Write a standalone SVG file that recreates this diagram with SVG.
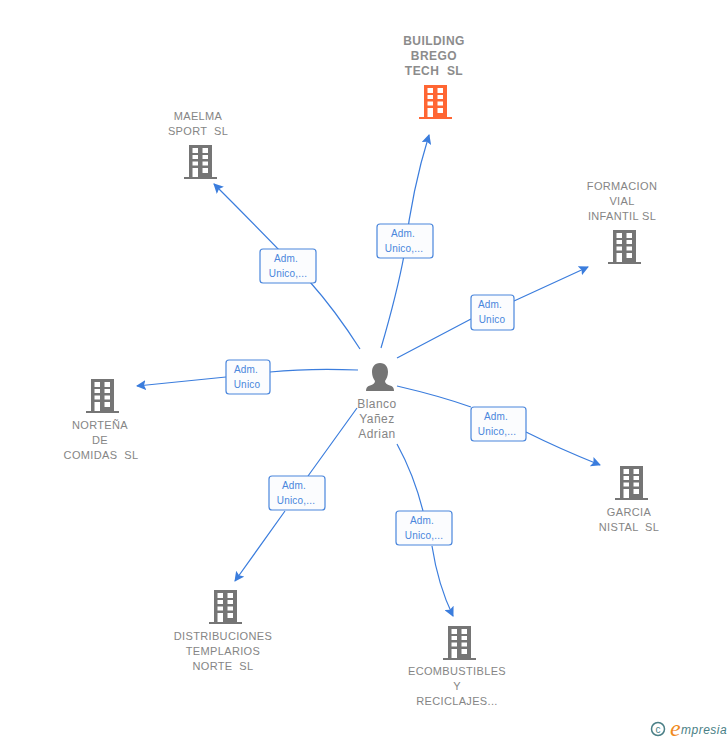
<svg xmlns="http://www.w3.org/2000/svg" width="728" height="740" viewBox="0 0 728 740">
<style>
.n{font:11px "Liberation Sans",Arial,sans-serif;fill:#858585;text-anchor:middle;letter-spacing:.35px;font-weight:400}
.p{font:12px "Liberation Sans",Arial,sans-serif;fill:#858585;text-anchor:middle;letter-spacing:.45px}
.b{font-weight:700;font-size:12px;letter-spacing:.45px;fill:#8c8c8c}
.l{font:10px "Liberation Sans",Arial,sans-serif;fill:#4a86dc;text-anchor:middle;letter-spacing:.2px}
.c{fill:none;stroke:#3b7ddd;stroke-width:1.200}
.box{fill:#fbfcfe;stroke:#4a86dc;stroke-width:1.200}
</style>
<defs>
<marker id="a" markerWidth="11" markerHeight="10" refX="9" refY="5" orient="auto" markerUnits="userSpaceOnUse"><path d="M0 0L10 5L0 10L2 5Z" fill="#3b7ddd"/></marker>
<symbol id="bld" viewBox="0 0 33 34" width="33" height="34">
<path fill-rule="evenodd" d="M5 0H28V32H33V34H0V32H5ZM8.500 3V8H14V3ZM18.500 3V8H24V3ZM8.500 10V14H14V10ZM18.500 10V14H24V10ZM8.500 16.500V20.500H14V16.500ZM18.500 16.500V20.500H24V16.500ZM8.500 23V32H14V23ZM18.500 23V28H24V23Z"/>
</symbol>
</defs>
<g id="connectors">
<path class="c" marker-end="url(#a)" d="M381 348Q398 290 405 250Q412 190 429 135"/>
<path class="c" marker-end="url(#a)" d="M360 349Q335 310 310 282Q265 235 214 184"/>
<path class="c" marker-end="url(#a)" d="M397 358L471 319M514 301L588 267"/>
<path class="c" marker-end="url(#a)" d="M397 386Q440 396 471 407M526 432Q560 449 600 465"/>
<path class="c" marker-end="url(#a)" d="M358 370Q310 368 270 372M226 377L137 386"/>
<path class="c" marker-end="url(#a)" d="M357 408L308 476M285 511L235 581"/>
<path class="c" marker-end="url(#a)" d="M397 444Q414 475 423 511M432 546Q438 585 453 616"/>
</g>
<g id="label-1"><rect class="box" x="377" y="224" width="56" height="34" rx="3"/><text class="l" x="403" y="237">Adm.</text><text class="l" x="404" y="252">Unico,...</text></g>
<g id="label-2"><rect class="box" x="260" y="249" width="56" height="34" rx="3"/><text class="l" x="286" y="262">Adm.</text><text class="l" x="288" y="277">Unico,...</text></g>
<g id="label-3"><rect class="box" x="471" y="295" width="43" height="35" rx="3"/><text class="l" x="490" y="308">Adm.</text><text class="l" x="492" y="323">Unico</text></g>
<g id="label-4"><rect class="box" x="471" y="407" width="55" height="34" rx="3"/><text class="l" x="496" y="420">Adm.</text><text class="l" x="497" y="435">Unico,...</text></g>
<g id="label-5"><rect class="box" x="226" y="360" width="44" height="34" rx="3"/><text class="l" x="246" y="373">Adm.</text><text class="l" x="247" y="388">Unico</text></g>
<g id="label-6"><rect class="box" x="269" y="476" width="56" height="34" rx="3"/><text class="l" x="294" y="489">Adm.</text><text class="l" x="296" y="504">Unico,...</text></g>
<g id="label-7"><rect class="box" x="396" y="511" width="56" height="34" rx="3"/><text class="l" x="422" y="524">Adm.</text><text class="l" x="424" y="539">Unico,...</text></g>
<g id="person"><path fill="#757575" d="M380 363C374.500 363 372 367 372 372C372 376 373.500 379 375 381C375 383.500 373 384.500 370 385.500C367 386.500 366 388 366 391H394C394 388 393 386.500 390 385.500C387 384.500 385 383.500 385 381C386.500 379 388 376 388 372C388 367 385.500 363 380 363Z"/><text class="p" x="377" y="408">Blanco</text><text class="p" x="377" y="423">Yañez</text><text class="p" x="377" y="438">Adrian</text></g>
<g id="building-brego"><use href="#bld" x="419" y="85" fill="#ff6633"/><text class="n b" x="434" y="45">BUILDING</text><text class="n b" x="434" y="60">BREGO</text><text class="n b" x="434" y="75" xml:space="preserve">TECH  SL</text></g>
<g id="maelma"><use href="#bld" x="184" y="145" fill="#757575"/><text class="n" x="198" y="120">MAELMA</text><text class="n" x="198" y="135" xml:space="preserve">SPORT  SL</text></g>
<g id="formacion"><use href="#bld" x="608" y="230" fill="#757575"/><text class="n" x="622" y="190">FORMACION</text><text class="n" x="622" y="205">VIAL</text><text class="n" x="622" y="220">INFANTIL SL</text></g>
<g id="nortena"><use href="#bld" x="86" y="379" fill="#757575"/><text class="n" x="100" y="429">NORTEÑA</text><text class="n" x="100" y="444">DE</text><text class="n" x="101" y="459" xml:space="preserve">COMIDAS  SL</text></g>
<g id="garcia"><use href="#bld" x="615" y="466" fill="#757575"/><text class="n" x="629" y="516">GARCIA</text><text class="n" x="629" y="531" xml:space="preserve">NISTAL  SL</text></g>
<g id="distribuciones"><use href="#bld" x="209" y="590" fill="#757575"/><text class="n" x="223" y="640">DISTRIBUCIONES</text><text class="n" x="223" y="655">TEMPLARIOS</text><text class="n" x="223" y="670" xml:space="preserve">NORTE  SL</text></g>
<g id="ecombustibles"><use href="#bld" x="443" y="626" fill="#757575"/><text class="n" x="457" y="675">ECOMBUSTIBLES</text><text class="n" x="457" y="690">Y</text><text class="n" x="457" y="705">RECICLAJES...</text></g>
<g id="brand"><circle cx="658" cy="729" r="6.500" fill="none" stroke="#4a7f86" stroke-width="1.500"/><text x="658" y="732.500" font-family="Liberation Sans, sans-serif" font-size="10" fill="#4a7f86" text-anchor="middle">c</text><text x="670" y="736" font-family="Liberation Serif, serif" font-style="italic" font-size="24" fill="#f08a1d">e</text><text x="681" y="734" font-family="Liberation Sans, sans-serif" font-style="italic" font-size="12" fill="#4a7f86" letter-spacing=".5">mpresia</text></g>
</svg>
